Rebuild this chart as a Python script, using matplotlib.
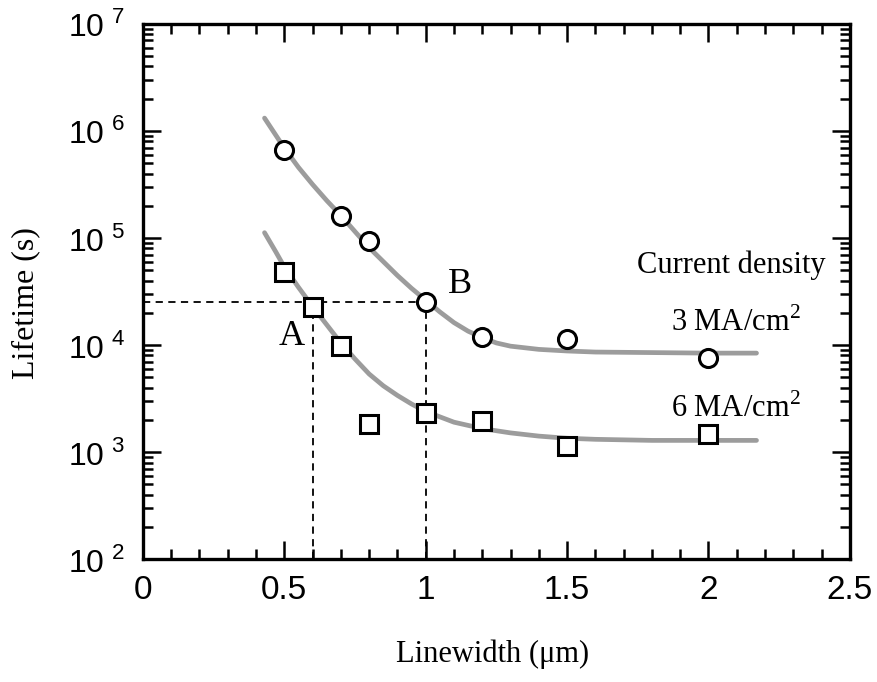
import numpy as np
import matplotlib
matplotlib.use("Agg")
import matplotlib.pyplot as plt
from matplotlib.ticker import FixedLocator, FixedFormatter, LogLocator, NullFormatter, MultipleLocator

plt.rcParams['mathtext.fontset'] = 'custom'
plt.rcParams['mathtext.rm'] = 'Liberation Serif'
plt.rcParams['mathtext.sf'] = 'Liberation Sans'

# --- dados ---
largura = [0.5, 0.7, 0.8, 1.0, 1.2, 1.5, 2.0]
vida_3ma = [6.6e5, 1.6e5, 9.4e4, 2.5e4, 1.19e4, 1.15e4, 7.5e3]

largura_6 = [0.5, 0.6, 0.7, 0.8, 1.0, 1.2, 1.5, 2.0]
vida_6ma = [4.8e4, 2.27e4, 9.8e3, 1.85e3, 2.3e3, 1.95e3, 1.14e3, 1.47e3]

# curvas de ajuste (log10 da vida), lidas ponto a ponto
curva_x = [0.43, 0.47, 0.5, 0.55, 0.6, 0.65, 0.7, 0.75, 0.8, 0.85, 0.9, 0.95, 1.0,
           1.05, 1.1, 1.15, 1.2, 1.25, 1.3, 1.4, 1.5, 1.6, 1.8, 2.0, 2.17]
curva_3ma = [6.12, 5.96, 5.84, 5.66, 5.50, 5.35, 5.21, 5.06, 4.91, 4.78, 4.65, 4.53, 4.42,
             4.31, 4.21, 4.13, 4.07, 4.02, 3.99, 3.96, 3.945, 3.935, 3.93, 3.925, 3.925]
curva_6ma = [5.05, 4.87, 4.73, 4.54, 4.36, 4.19, 4.02, 3.87, 3.73, 3.62, 3.53, 3.45, 3.38,
             3.33, 3.28, 3.25, 3.22, 3.20, 3.18, 3.15, 3.13, 3.12, 3.11, 3.11, 3.11]

ticks_x = [0, 0.5, 1, 1.5, 2, 2.5]
rotulos_x = ['0', '0.5', '1', '1.5', '2', '2.5']
ticks_y = [1e2, 1e3, 1e4, 1e5, 1e6, 1e7]
rotulos_y = [r'$\mathsf{10}^{\ \mathsf{%d}}$' % k for k in range(2, 8)]

fig = plt.figure(figsize=(8.77, 6.82), dpi=100)
ax = fig.add_axes([0.163, 0.180, 0.806, 0.785])

# --- curvas cinzas ---
ax.plot(curva_x, 10 ** np.array(curva_3ma), color='#9c9c9c', lw=3.4, solid_capstyle='round', zorder=2)
ax.plot(curva_x, 10 ** np.array(curva_6ma), color='#9c9c9c', lw=3.4, solid_capstyle='round', zorder=2)

# --- linhas tracejadas ---
ax.plot([0, 1.0], [2.5e4, 2.5e4], 'k--', lw=1.3, dashes=(4, 3), zorder=1)
ax.plot([0.6, 0.6], [1e2, 2.27e4], 'k--', lw=1.3, dashes=(4, 3), zorder=1)
ax.plot([1.0, 1.0], [1e2, 2.5e4], 'k--', lw=1.3, dashes=(4, 3), zorder=1)

# --- pontos ---
ax.plot(largura, vida_3ma, 'o', ms=13, mfc='white', mec='black', mew=2.2, zorder=3)
ax.plot(largura_6, vida_6ma, 's', ms=13, mfc='white', mec='black', mew=2.2, zorder=3)

ax.set_yscale('log')
ax.set_xlim(0, 2.5)
ax.set_ylim(1e2, 1e7)

ax.xaxis.set_major_locator(FixedLocator(ticks_x))
ax.xaxis.set_major_formatter(FixedFormatter(rotulos_x))
ax.xaxis.set_minor_locator(MultipleLocator(0.1))
ax.yaxis.set_major_locator(FixedLocator(ticks_y))
ax.yaxis.set_major_formatter(FixedFormatter(rotulos_y))
ax.yaxis.set_minor_locator(LogLocator(base=10, subs=np.arange(2, 10), numticks=20))
ax.yaxis.set_minor_formatter(NullFormatter())

ax.tick_params(which='both', direction='in', top=True, right=True, width=1.8)
ax.tick_params(which='major', length=13, pad=11)
ax.tick_params(axis='x', which='major', labelsize=24)
ax.tick_params(axis='y', which='major', labelsize=23, pad=13)
ax.tick_params(which='minor', length=7)
for lab in ax.get_xticklabels():
    lab.set_fontfamily('Liberation Sans')
for s in ax.spines.values():
    s.set_linewidth(2.4)

serif = 'Liberation Serif'
ax.set_xlabel(u'Linewidth (\u03bcm)', fontsize=22, family=serif)
ax.xaxis.set_label_coords(0.495, -0.150)
ax.set_ylabel('Lifetime (s)', fontsize=23, family=serif)
ax.yaxis.set_label_coords(-0.146, 0.478)

ax.text(0.527, 1.0e4, 'A', fontsize=26, family=serif, ha='center', va='baseline')
ax.text(1.122, 3.06e4, 'B', fontsize=26, family=serif, ha='center', va='baseline')
ax.text(2.415, 4.7e4, 'Current density', fontsize=22, family=serif, ha='right', va='baseline')
ax.text(2.326, 1.35e4, r'3 MA/cm$^{2}$', fontsize=22, family=serif, ha='right', va='baseline')
ax.text(2.326, 2.12e3, r'6 MA/cm$^{2}$', fontsize=22, family=serif, ha='right', va='baseline')

fig.savefig('out.png', dpi=100)
